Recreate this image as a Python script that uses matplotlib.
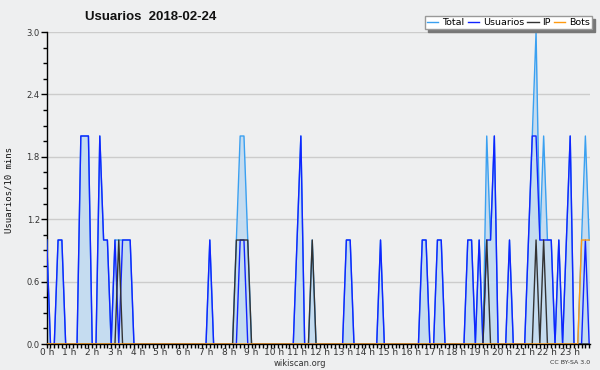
import numpy as np
import matplotlib
matplotlib.use("Agg")
import matplotlib.pyplot as plt
from matplotlib.ticker import MultipleLocator, FixedLocator

# 10-minute slots over the day (144 slots)
usuarios = [
    1,0,0,1,1,0,0,0,0,2,2,2,
    0,0,2,1,1,0,1,0,1,1,1,0,
    0,0,0,0,0,0,0,0,0,0,0,0,
    0,0,0,0,0,0,0,1,0,0,0,0,
    0,0,0,1,1,0,0,0,0,0,0,0,
    0,0,0,0,0,0,1,2,0,0,0,0,
    0,0,0,0,0,0,0,1,1,0,0,0,
    0,0,0,0,1,0,0,0,0,0,0,0,
    0,0,0,1,1,0,0,1,1,0,0,0,
    0,0,0,1,1,0,1,0,1,1,2,0,
    0,0,1,0,0,0,0,1,2,2,1,1,
    1,1,0,1,0,1,2,0,0,0,1,0,
]
ip = [
    0,0,0,0,0,0,0,0,0,0,0,0,
    0,0,0,0,0,0,0,1,0,0,0,0,
    0,0,0,0,0,0,0,0,0,0,0,0,
    0,0,0,0,0,0,0,0,0,0,0,0,
    0,0,1,1,1,1,0,0,0,0,0,0,
    0,0,0,0,0,0,0,0,0,0,1,0,
    0,0,0,0,0,0,0,0,0,0,0,0,
    0,0,0,0,0,0,0,0,0,0,0,0,
    0,0,0,0,0,0,0,0,0,0,0,0,
    0,0,0,0,0,0,0,0,1,0,0,0,
    0,0,0,0,0,0,0,0,0,1,0,1,
    0,0,0,0,0,0,0,0,0,0,0,0,
]
bots = [0]*132 + [0,0,0,0,0,0,0,0,0,1,1,1]
total = [
    1,0,0,1,1,0,0,0,0,2,2,2,
    0,0,2,1,1,0,1,1,1,1,1,0,
    0,0,0,0,0,0,0,0,0,0,0,0,
    0,0,0,0,0,0,0,1,0,0,0,0,
    0,0,1,2,2,1,0,0,0,0,0,0,
    0,0,0,0,0,0,1,2,0,0,1,0,
    0,0,0,0,0,0,0,1,1,0,0,0,
    0,0,0,0,1,0,0,0,0,0,0,0,
    0,0,0,1,1,0,0,1,1,0,0,0,
    0,0,0,1,1,0,1,0,2,1,2,0,
    0,0,1,0,0,0,0,1,2,3,1,2,
    1,1,0,1,0,1,2,0,0,1,2,1,
]
hour_labels = [f"{h} h" for h in range(24)]
y_ticks = [0.0, 0.6, 1.2, 1.8, 2.4, 3.0]

x = np.arange(len(total)) / 6.0

bg = "#eeeff0"
fig = plt.figure(figsize=(6.0, 3.7), dpi=100, facecolor=bg)
ax = fig.add_axes([46.7/600, 1-344/370, (590-46.7)/600, (344-32)/370])
ax.set_facecolor(bg)

ax.fill_between(x, 0, total, color="#c5dcf0", lw=0, zorder=1)
ax.plot(x, total, color="#3aa0f0", lw=1.0, zorder=3, label="Total")
ax.plot(x, usuarios, color="#1024ff", lw=1.0, zorder=4, label="Usuarios")
ax.plot(x, ip, color="#333333", lw=1.0, zorder=5, label="IP")
ax.plot(x, bots, color="#ff9a10", lw=1.0, zorder=6, label="Bots")

ax.set_xlim(0, 23.87)
ax.set_ylim(0, 3.0)
for s in ["top", "right"]:
    ax.spines[s].set_visible(False)
for s in ["left", "bottom"]:
    ax.spines[s].set_color("black")
    ax.spines[s].set_linewidth(1.0)

ax.xaxis.set_major_locator(FixedLocator(range(24)))
ax.set_xticklabels(hour_labels, fontsize=6.5, color="#333333", family="DejaVu Sans")
ax.xaxis.set_minor_locator(MultipleLocator(1/6))
ax.set_yticks(y_ticks)
ax.set_yticklabels([f"{v:.1f}" for v in y_ticks], fontsize=6, color="#333333")
ax.yaxis.set_minor_locator(MultipleLocator(0.15))
ax.tick_params(axis="y", which="major", length=4, width=1, pad=1, color="black")
ax.tick_params(axis="y", which="minor", length=3, width=1, color="black")
ax.tick_params(axis="x", which="major", length=3, width=1, pad=0, color="black")
ax.tick_params(axis="x", which="minor", length=3, width=1, color="black")
ax.grid(axis="y", which="major", color="#cccccc", lw=1.0, zorder=0)
ax.set_axisbelow(True)

fig.text(85/600, 1-17/370, "Usuarios  2018-02-24", fontsize=9.5, fontweight="bold",
         family="Liberation Sans", ha="left", va="center", color="#111111")
fig.text(9/600, 1-190/370, "Usuarios/10 mins", rotation=90, fontsize=6.5,
         family="DejaVu Sans Mono", ha="center", va="center", color="#111111")
fig.text(300/600, 1-363/370, "wikiscan.org", fontsize=6, ha="center", va="center", color="#333333")
fig.text(590/600, 1-363/370, "CC BY-SA 3.0", fontsize=4.5, ha="right", va="center", color="#333333")

leg = fig.legend(loc="upper right", bbox_to_anchor=(592/600, 1-16/370), ncol=4,
                 fontsize=6.8, frameon=True, fancybox=False, shadow={"color": "#777777", "alpha": 1.0},
                 handlelength=1.2, handletextpad=0.4, columnspacing=0.35,
                 borderpad=0.2, borderaxespad=0)
leg.get_frame().set_edgecolor("#999999")
leg.get_frame().set_facecolor("white")
leg.get_frame().set_linewidth(1.0)

fig.savefig("out.png", dpi=100, facecolor=bg)
